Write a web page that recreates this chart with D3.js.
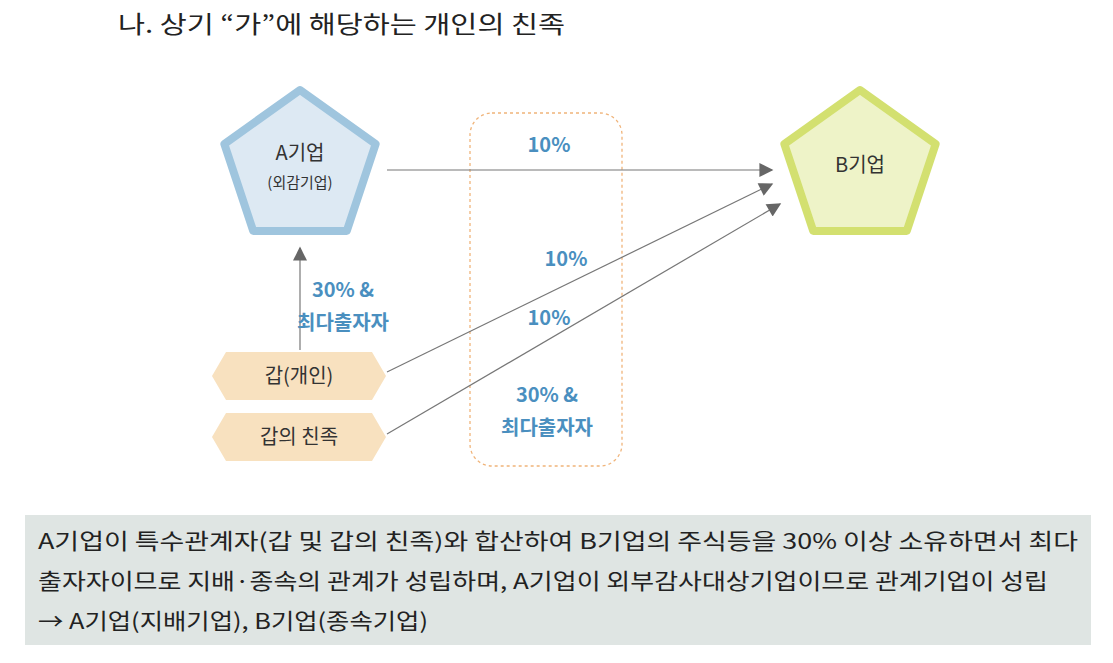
<!DOCTYPE html>
<html><head><meta charset="utf-8">
<script src="https://cdn.jsdelivr.net/npm/d3@7"></script>
<style>body{margin:0;background:#fff}text{font-family:"Noto Sans CJK KR","Noto Sans",sans-serif}</style>
</head><body><svg id="c" width="1113" height="663"></svg>
<script>
const title = "나. 상기 “가”에 해당하는 개인의 친족";
const companies = ["A기업", "B기업"];
const companySub = ["(외감기업)", ""];
const persons = ["갑(개인)", "갑의 친족"];
const edgeLabels = ["10%", "10%", "10%", "30% &|최다출자자", "30% &|최다출자자"];
const noteLines = [
  "A기업이 특수관계자(갑 및 갑의 친족)와 합산하여 B기업의 주식등을 30% 이상 소유하면서 최다",
  "출자자이므로 지배·종속의 관계가 성립하며, A기업이 외부감사대상기업이므로 관계기업이 성립",
  "→ A기업(지배기업), B기업(종속기업)"
];

const svg = d3.select("#c");
svg.append("text").attr("x",118).attr("y",33).attr("font-size",24).attr("fill","#222")
  .attr("textLength",447).attr("lengthAdjust","spacingAndGlyphs").text(title);

const defs = svg.append("defs");
defs.append("marker").attr("id","ah").attr("viewBox","0 0 10 10").attr("refX",9).attr("refY",5)
  .attr("markerUnits","userSpaceOnUse").attr("markerWidth",20).attr("markerHeight",14).attr("orient","auto")
  .append("path").attr("d","M0,0L10,5L0,10z").attr("fill","#666");

svg.append("rect").attr("x",470).attr("y",113).attr("width",152).attr("height",353).attr("rx",22)
  .attr("fill","none").attr("stroke","#f0b47a").attr("stroke-width",1.3).attr("stroke-dasharray","3,3");

const pent = (cx,cy,r)=>d3.range(5).map(i=>{const a=-Math.PI/2+i*2*Math.PI/5;return [cx+r*Math.cos(a)*1.02,cy+r*Math.sin(a)];});
const pents=[{cx:300,cy:168,fill:"#dde9f3",stroke:"#9fc5de"},{cx:860,cy:168,fill:"#eef3c8",stroke:"#d3e070"}];
pents.forEach((p,i)=>{
  svg.append("polygon").attr("points",pent(p.cx,p.cy,78).map(d=>d.join(",")).join(" "))
    .attr("fill",p.fill).attr("stroke",p.stroke).attr("stroke-width",8).attr("stroke-linejoin","round");
  svg.append("text").attr("x",p.cx).attr("y",i==0?160:172).attr("text-anchor","middle").attr("font-size",20).attr("fill","#333").text(companies[i]);
  if(companySub[i]) svg.append("text").attr("x",p.cx).attr("y",188).attr("text-anchor","middle").attr("font-size",15).attr("fill","#333").text(companySub[i]);
});

const tags=[{y:352},{y:413}];
tags.forEach((t,i)=>{
  const x0=212,x1=386,h=48,y=t.y;
  svg.append("polygon").attr("points",[[x0,y+h/2],[x0+14,y],[x1-14,y],[x1,y+h/2],[x1-14,y+h],[x0+14,y+h]].map(d=>d.join(",")).join(" "))
    .attr("fill","#f8e1bf");
  svg.append("text").attr("x",299).attr("y",y+h/2+7).attr("text-anchor","middle").attr("font-size",20).attr("fill","#333").text(persons[i]);
});

const edges=[[387,170,772,170],[387,372,772,184],[387,434,780,204],[300,350,300,248]];
edges.forEach(e=>svg.append("line").attr("x1",e[0]).attr("y1",e[1]).attr("x2",e[2]).attr("y2",e[3])
  .attr("stroke","#777").attr("stroke-width",1.2).attr("marker-end","url(#ah)"));

const labelPos=[[549,152],[566,266],[549,325],[547,402],[343,297]];
edgeLabels.forEach((l,i)=>{
  const parts=l.split("|");
  parts.forEach((p,j)=>svg.append("text").attr("x",labelPos[i][0]+(j==0&&i==4?0:0)).attr("y",labelPos[i][1]+j*33)
    .attr("text-anchor","middle").attr("font-size",20).attr("font-weight",600).attr("fill","#4a8fbf").text(p));
});

svg.append("rect").attr("x",25).attr("y",515).attr("width",1066).attr("height",130).attr("fill","#dfe5e3");
const lens=[1040,1010,390];
noteLines.forEach((l,i)=>svg.append("text").attr("x",38).attr("y",549+i*40).attr("font-size",21.5)
  .attr("fill","#222").attr("textLength",lens[i]).attr("lengthAdjust","spacingAndGlyphs").text(l));
</script></body></html>
